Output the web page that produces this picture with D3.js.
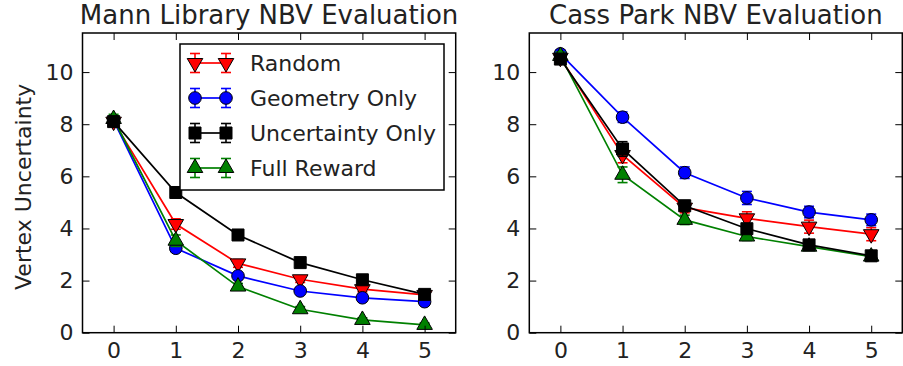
<!DOCTYPE html>
<html>
<head>
<meta charset="utf-8">
<script src="https://cdn.jsdelivr.net/npm/d3@7/dist/d3.min.js"></script>
<style>
  html, body { margin: 0; padding: 0; background: #fff; }
  svg { display: block; font-family: "DejaVu Sans", sans-serif; }
</style>
</head>
<body>
<svg id="chart" width="903" height="366"></svg>
<script>
// Planning steps on the x axis
const steps = [0, 1, 2, 3, 4, 5];
const xTicks = [0, 1, 2, 3, 4, 5];
const yTicks = [0, 2, 4, 6, 8, 10];

const seriesNames = ["Random", "Geometry Only", "Uncertainty Only", "Full Reward"];

// Mann Library: mean vertex uncertainty and error per step
const mannRandom        = [8.10, 4.17, 2.66, 2.05, 1.67, 1.45];
const mannRandomErr     = [0.15, 0.20, 0.15, 0.12, 0.10, 0.08];
const mannGeometry      = [8.15, 3.24, 2.18, 1.60, 1.34, 1.19];
const mannGeometryErr   = [0.15, 0.15, 0.12, 0.10, 0.08, 0.08];
const mannUncertainty   = [8.10, 5.38, 3.75, 2.69, 2.03, 1.47];
const mannUncertaintyErr= [0.12, 0.12, 0.10, 0.10, 0.08, 0.08];
const mannFull          = [8.20, 3.53, 1.77, 0.90, 0.49, 0.30];
const mannFullErr       = [0.18, 0.22, 0.12, 0.10, 0.08, 0.07];

// Cass Park: mean vertex uncertainty and error per step
const cassRandom        = [10.55, 6.82, 4.80, 4.39, 4.07, 3.78];
const cassRandomErr     = [0.15, 0.30, 0.20, 0.25, 0.25, 0.25];
const cassGeometry      = [10.70, 8.27, 6.14, 5.17, 4.63, 4.33];
const cassGeometryErr   = [0.15, 0.20, 0.22, 0.25, 0.22, 0.22];
const cassUncertainty   = [10.50, 7.05, 4.87, 3.99, 3.37, 2.95];
const cassUncertaintyErr= [0.15, 0.28, 0.20, 0.18, 0.15, 0.12];
const cassFull          = [10.62, 6.06, 4.33, 3.69, 3.30, 2.92];
const cassFullErr       = [0.15, 0.30, 0.18, 0.15, 0.12, 0.10];

const styles = {
  "Random":           { color: "#ff0000", marker: "tri-down" },
  "Geometry Only":    { color: "#0000ff", marker: "circle" },
  "Uncertainty Only": { color: "#000000", marker: "square" },
  "Full Reward":      { color: "#008000", marker: "tri-up" }
};

const panels = [
  {
    title: "Mann Library NBV Evaluation",
    left: 82.5, right: 455.7, ylabel: "Vertex Uncertainty", legend: true,
    series: {
      "Random": [mannRandom, mannRandomErr],
      "Geometry Only": [mannGeometry, mannGeometryErr],
      "Uncertainty Only": [mannUncertainty, mannUncertaintyErr],
      "Full Reward": [mannFull, mannFullErr]
    }
  },
  {
    title: "Cass Park NBV Evaluation",
    left: 529.3, right: 902.3, ylabel: null, legend: false,
    series: {
      "Random": [cassRandom, cassRandomErr],
      "Geometry Only": [cassGeometry, cassGeometryErr],
      "Uncertainty Only": [cassUncertainty, cassUncertaintyErr],
      "Full Reward": [cassFull, cassFullErr]
    }
  }
];

// drawing order: black squares sit on top of the others
const drawOrder = ["Random", "Geometry Only", "Full Reward", "Uncertainty Only"];

const plotTop = 33, plotBottom = 332.7;
const textColor = "#222";
const svg = d3.select("#chart");

function markerPath(kind) {
  if (kind === "circle") return d3.symbol(d3.symbolCircle, 125)();
  if (kind === "square") return d3.symbol(d3.symbolSquare, 144)();
  return d3.symbol(d3.symbolTriangle, 105)();
}
function markerTransform(kind, cx, cy) {
  if (kind === "tri-down") return `translate(${cx},${cy}) rotate(180)`;
  return `translate(${cx},${cy})`;
}

function drawMarker(g, kind, color, cx, cy) {
  g.append("path")
    .attr("d", markerPath(kind))
    .attr("transform", markerTransform(kind, cx, cy))
    .attr("fill", color)
    .attr("stroke", "#000")
    .attr("stroke-width", 1);
}

function drawErrorBar(g, color, cx, y0, y1) {
  const cap = 5;
  g.append("line").attr("x1", cx).attr("x2", cx).attr("y1", y0).attr("y2", y1)
    .attr("stroke", color).attr("stroke-width", 1.6);
  [y0, y1].forEach(yy => {
    g.append("line").attr("x1", cx - cap).attr("x2", cx + cap).attr("y1", yy).attr("y2", yy)
      .attr("stroke", color).attr("stroke-width", 1.6);
  });
}

panels.forEach(p => {
  const x = d3.scaleLinear().domain([-0.5, 5.5]).range([p.left, p.right]);
  const y = d3.scaleLinear().domain([0, 11.5]).range([plotBottom, plotTop]);
  const g = svg.append("g");

  // data series
  const plot = g.append("g");
  drawOrder.forEach(name => {
    const st = styles[name];
    const [vals, errs] = p.series[name];
    const pts = steps.map((s, i) => ({ s, v: vals[i], e: errs[i] }));
    const sg = plot.append("g");
    sg.append("path")
      .datum(pts)
      .attr("d", d3.line().x(d => x(d.s)).y(d => y(d.v)))
      .attr("fill", "none")
      .attr("stroke", st.color)
      .attr("stroke-width", 1.7);
    pts.forEach(d => drawErrorBar(sg, st.color, x(d.s), y(d.v - d.e), y(d.v + d.e)));
    pts.forEach(d => drawMarker(sg, st.marker, st.color, x(d.s), y(d.v)));
  });

  // axes with inward ticks on all four sides
  const tickLen = 7;
  const styleAxis = sel => {
    sel.select(".domain").remove();
    sel.selectAll(".tick line").attr("stroke", "#000").attr("stroke-width", 1);
    sel.selectAll(".tick text").attr("fill", textColor).attr("font-size", 22)
      .attr("font-family", "DejaVu Sans, sans-serif");
  };
  g.append("g").attr("transform", `translate(0,${plotBottom})`)
    .call(d3.axisBottom(x).tickValues(xTicks).tickFormat(d3.format("d"))
      .tickSizeInner(-tickLen).tickSizeOuter(0).tickPadding(10))
    .call(styleAxis);
  g.append("g").attr("transform", `translate(0,${plotTop})`)
    .call(d3.axisTop(x).tickValues(xTicks).tickFormat("")
      .tickSizeInner(-tickLen).tickSizeOuter(0))
    .call(styleAxis);
  g.append("g").attr("transform", `translate(${p.left},0)`)
    .call(d3.axisLeft(y).tickValues(yTicks).tickFormat(d3.format("d"))
      .tickSizeInner(-tickLen).tickSizeOuter(0).tickPadding(9))
    .call(styleAxis);
  g.append("g").attr("transform", `translate(${p.right},0)`)
    .call(d3.axisRight(y).tickValues(yTicks).tickFormat("")
      .tickSizeInner(-tickLen).tickSizeOuter(0))
    .call(styleAxis);

  // frame
  g.append("rect")
    .attr("x", p.left).attr("y", plotTop)
    .attr("width", p.right - p.left).attr("height", plotBottom - plotTop)
    .attr("fill", "none").attr("stroke", "#000").attr("stroke-width", 1.5);

  // title
  g.append("text")
    .attr("x", (p.left + p.right) / 2).attr("y", 24)
    .attr("text-anchor", "middle")
    .attr("font-size", 26)
    .attr("fill", textColor)
    .text(p.title);

  if (p.ylabel) {
    g.append("text")
      .attr("transform", `translate(31,${(plotTop + plotBottom) / 2 + 4}) rotate(-90)`)
      .attr("text-anchor", "middle")
      .attr("font-size", 22)
      .attr("fill", textColor)
      .text(p.ylabel);
  }

  if (p.legend) {
    const lx = 180, ly = 44, lw = 264, lh = 146;
    const lg = g.append("g");
    lg.append("rect").attr("x", lx).attr("y", ly).attr("width", lw).attr("height", lh)
      .attr("fill", "#fff").attr("stroke", "#000").attr("stroke-width", 1.5);
    const rowY = d3.scalePoint().domain(seriesNames).range([63, 168]);
    seriesNames.forEach(name => {
      const st = styles[name];
      const cy = rowY(name);
      const eg = lg.append("g");
      eg.append("line").attr("x1", 195).attr("x2", 226).attr("y1", cy).attr("y2", cy)
        .attr("stroke", st.color).attr("stroke-width", 1.7);
      [195, 226].forEach(cx => drawErrorBar(eg, st.color, cx, cy - 9.5, cy + 9.5));
      [195, 226].forEach(cx => drawMarker(eg, st.marker, st.color, cx, cy));
      eg.append("text").attr("x", 250).attr("y", cy).attr("dy", "0.36em")
        .attr("font-size", 22).attr("fill", textColor).text(name);
    });
  }
});
</script>
</body>
</html>
